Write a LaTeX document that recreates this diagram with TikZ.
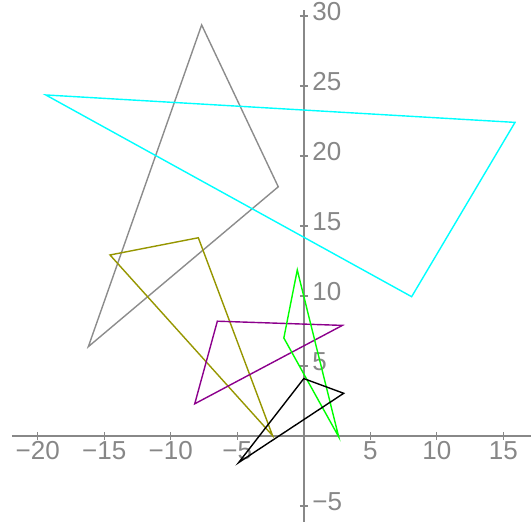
\documentclass[tikz,border=0pt]{standalone}
\usepackage{fontspec}
\setmainfont{Liberation Sans}
\definecolor{axisgray}{RGB}{136,136,136}
\definecolor{labgray}{RGB}{135,135,135}
\definecolor{cyanc}{RGB}{0,255,255}
\definecolor{grayc}{RGB}{140,140,140}
\definecolor{olivec}{RGB}{150,150,0}
\definecolor{purplec}{RGB}{140,0,140}
\definecolor{greenc}{RGB}{0,255,0}
\begin{document}
\begin{tikzpicture}[x=13.3pt,y=14pt,
  axisline/.style={draw=axisgray,line width=1.5pt},
  tickmark/.style={draw=axisgray,line width=1.3pt},
  xlab/.style={anchor=north,inner sep=0pt,text height=0.72em,text depth=0pt,text=labgray,font=\fontsize{26}{26}\selectfont},
  ylab/.style={anchor=west,inner sep=0pt,text height=0.72em,text depth=0pt,text=labgray,font=\fontsize{26}{26}\selectfont},
  poly/.style={line width=1.4pt,line join=miter}]
\useasboundingbox (-22.842,-6.143) rectangle (17.083,31.143);
% axes
\coordinate (xl) at (-21.94,0);
\coordinate (xr) at (17.083,0);
\coordinate (yb) at (0,-6.143);
\coordinate (yt) at (0,30.43);
\draw[axisline] (xl) -- (xr);
\draw[axisline] (yb) -- (yt);
% x ticks and labels
\foreach \v/\t in {-20/{−20},-15/{−15},-10/{−10},-5/{−5},5/5,10/10,15/15}{
  \draw[tickmark] (\v,0) ++(0,-4pt) -- ++(0,8pt);
  \node[xlab] (xt\v) at ([yshift=-16pt]\v,0) {\t};
}
% y ticks and labels
\foreach \v/\t in {-5/{−5},5/5,10/10,15/15,20/20,25/25,30/30}{
  \draw[tickmark] (0,\v) ++(-4pt,0) -- ++(8pt,0);
  \node[ylab] (yt\v) at ([xshift=8.5pt,yshift=-1pt]0,\v) {\t};
}
% gray triangle
\coordinate (g1) at (-7.68,29.36);
\coordinate (g2) at (-1.92,17.8);
\coordinate (g3) at (-16.2,6.38);
\draw[poly,draw=grayc] (g1) -- (g2) -- (g3) -- cycle;
% cyan triangle
\coordinate (c1) at (-19.4,24.36);
\coordinate (c2) at (15.88,22.4);
\coordinate (c3) at (8.11,9.95);
\draw[poly,draw=cyanc] (c1) -- (c2) -- (c3) -- cycle;
% olive triangle
\coordinate (o1) at (-14.57,12.93);
\coordinate (o2) at (-7.93,14.16);
\coordinate (o3) at (-2.35,0.03);
\draw[poly,draw=olivec] (o1) -- (o2) -- (o3) -- cycle;
% purple triangle
\coordinate (p1) at (-6.5,8.2);
\coordinate (p2) at (2.9,7.9);
\coordinate (p3) at (-8.2,2.3);
\draw[poly,draw=purplec] (p1) -- (p2) -- (p3) -- cycle;
% green triangle
\coordinate (q1) at (-0.49,11.86);
\coordinate (q2) at (-1.5,7.0);
\coordinate (q3) at (2.62,-0.05);
\draw[poly,draw=greenc] (q1) -- (q2) -- (q3) -- cycle;
% black triangle
\coordinate (b1) at (0.0,4.1);
\coordinate (b2) at (3.0,3.05);
\coordinate (b3) at (-4.9,-1.9);
\draw[poly,draw=black] (b1) -- (b2) -- (b3) -- cycle;
\end{tikzpicture}
\end{document}
